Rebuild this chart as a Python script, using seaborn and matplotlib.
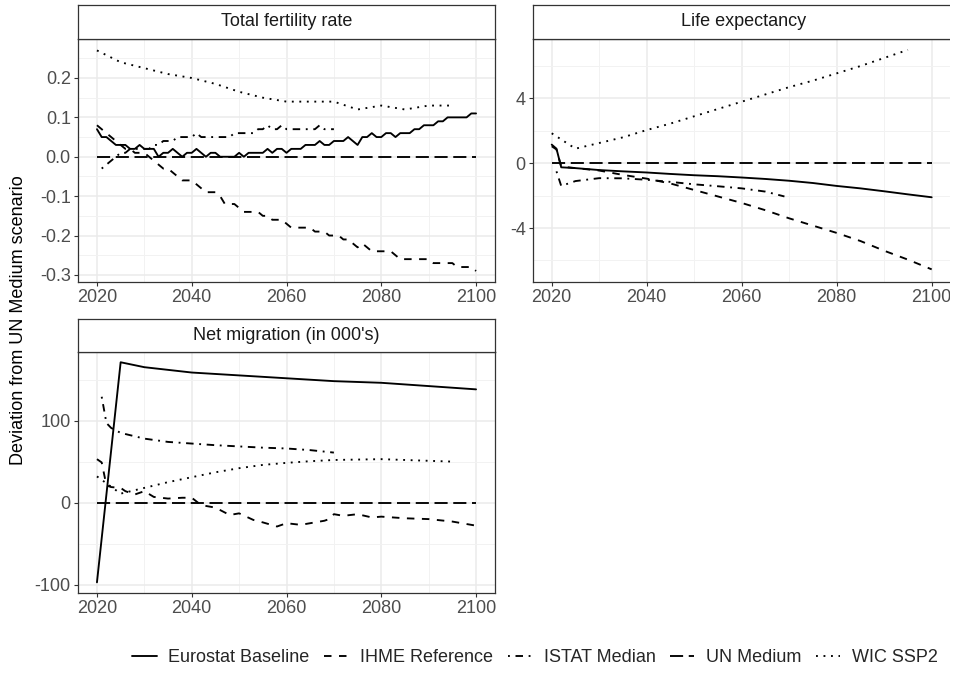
import matplotlib
matplotlib.use("Agg")
import matplotlib.pyplot as plt
import numpy as np
import pandas as pd
import seaborn as sns
from matplotlib.lines import Line2D
from matplotlib.patches import Rectangle

sns.set_theme(style="white")
plt.rcParams['font.family'] = ['Liberation Sans', 'DejaVu Sans']
plt.rcParams['axes.unicode_minus'] = False

# ---------------- data ----------------
scenarios = ["Eurostat Baseline", "IHME Reference", "ISTAT Median", "UN Medium", "WIC SSP2"]
panel_titles = ["Total fertility rate", "Life expectancy", "Net migration (in 000's)"]
x_ticks = [2020, 2040, 2060, 2080, 2100]

# Total fertility rate
tfr_years = list(range(2020, 2101))
tfr_eurostat = [0.07, 0.05, 0.05, 0.04, 0.03, 0.03, 0.03, 0.02, 0.02, 0.03,
                0.02, 0.02, 0.02, 0.00, 0.01, 0.01, 0.02, 0.01, 0.00, 0.01,
                0.01, 0.02, 0.01, 0.00, 0.01, 0.01, 0.00, 0.00, 0.00, 0.00,
                0.01, 0.00, 0.01, 0.01, 0.01, 0.01, 0.02, 0.01, 0.02, 0.02,
                0.01, 0.02, 0.02, 0.02, 0.03, 0.03, 0.03, 0.04, 0.03, 0.03,
                0.04, 0.04, 0.04, 0.05, 0.04, 0.03, 0.05, 0.05, 0.06, 0.05,
                0.05, 0.06, 0.06, 0.05, 0.06, 0.06, 0.06, 0.07, 0.07, 0.08,
                0.08, 0.08, 0.09, 0.09, 0.10, 0.10, 0.10, 0.10, 0.10, 0.11,
                0.11]
tfr_ihme = [0.08, 0.07, 0.06, 0.05, 0.04, 0.03, 0.02, 0.02, 0.01, 0.01,
            0.01, 0.00, -0.01, -0.02, -0.03, -0.03, -0.04, -0.05, -0.06, -0.06,
            -0.06, -0.07, -0.08, -0.09, -0.09, -0.09, -0.10, -0.12, -0.12, -0.12,
            -0.13, -0.14, -0.14, -0.14, -0.14, -0.15, -0.15, -0.16, -0.16, -0.16,
            -0.17, -0.18, -0.18, -0.18, -0.18, -0.18, -0.19, -0.19, -0.19, -0.20,
            -0.20, -0.20, -0.21, -0.21, -0.22, -0.23, -0.22, -0.23, -0.24, -0.24,
            -0.24, -0.24, -0.24, -0.25, -0.26, -0.26, -0.26, -0.26, -0.26, -0.26,
            -0.26, -0.27, -0.27, -0.27, -0.27, -0.27, -0.28, -0.28, -0.28, -0.28,
            -0.29]
tfr_istat_years = list(range(2021, 2071))
tfr_istat = [-0.03, -0.02, -0.01, 0.00, 0.01, 0.01, 0.02, 0.02, 0.02,
             0.02, 0.02, 0.03, 0.03, 0.04, 0.04, 0.04, 0.05, 0.05, 0.05,
             0.05, 0.06, 0.05, 0.05, 0.05, 0.05, 0.05, 0.05, 0.05, 0.06,
             0.06, 0.06, 0.06, 0.06, 0.07, 0.07, 0.08, 0.07, 0.07, 0.08,
             0.07, 0.07, 0.07, 0.07, 0.07, 0.07, 0.07, 0.08, 0.07, 0.07,
             0.07]
tfr_un_years = [2020, 2100]
tfr_un = [0.0, 0.0]
tfr_wic_years = [2020, 2025, 2030, 2035, 2040, 2045, 2050, 2055, 2060, 2065, 2070, 2075, 2080, 2085, 2090, 2095]
tfr_wic = [0.27, 0.24, 0.225, 0.21, 0.20, 0.185, 0.165, 0.15, 0.14, 0.14, 0.14, 0.12, 0.13, 0.12, 0.13, 0.13]

# Life expectancy
le_eurostat_years = [2020, 2021, 2022, 2025, 2030, 2035, 2040, 2045, 2050, 2055, 2060, 2065, 2070, 2075, 2080, 2085, 2090, 2095, 2100]
le_eurostat = [1.15, 0.9, -0.25, -0.3, -0.42, -0.5, -0.57, -0.66, -0.74, -0.8, -0.88, -0.97, -1.08, -1.22, -1.4, -1.55, -1.73, -1.92, -2.1]
le_ihme_years = [2020, 2021, 2022, 2025, 2030, 2035, 2040, 2045, 2050, 2055, 2060, 2065, 2070, 2075, 2080, 2085, 2090, 2095, 2100]
le_ihme = [1.05, 0.85, -0.2, -0.3, -0.45, -0.72, -0.95, -1.25, -1.65, -2.05, -2.45, -2.9, -3.4, -3.85, -4.3, -4.8, -5.4, -5.95, -6.55]
le_istat_years = [2021, 2022, 2025, 2030, 2035, 2040, 2045, 2050, 2055, 2060, 2065, 2069]
le_istat = [-0.5, -1.4, -1.1, -0.92, -0.93, -1.02, -1.15, -1.3, -1.42, -1.55, -1.75, -2.05]
le_un_years = [2020, 2100]
le_un = [0.0, 0.0]
le_wic_years = [2020, 2025, 2030, 2035, 2040, 2045, 2050, 2055, 2060, 2065, 2070, 2075, 2080, 2085, 2090, 2095]
le_wic = [1.85, 0.9, 1.25, 1.6, 2.05, 2.45, 2.9, 3.35, 3.8, 4.25, 4.7, 5.1, 5.55, 6.0, 6.5, 7.0]

# Net migration (in 000's)
nm_eurostat_years = [2020, 2025, 2030, 2040, 2050, 2060, 2070, 2080, 2090, 2100]
nm_eurostat = [-97, 171, 165, 158.5, 155, 151.5, 148, 146, 142, 138]
nm_ihme_years = [2020, 2021, 2022, 2023, 2025, 2026, 2028, 2030, 2032, 2035, 2038, 2040, 2042, 2045, 2048,
                 2050, 2053, 2055, 2058, 2060, 2063, 2065, 2068, 2069, 2070, 2072, 2075, 2078, 2080, 2085,
                 2090, 2095, 2100]
nm_ihme = [53, 49, 21, 19, 18, 14, 10, 14, 7, 5, 6, 6, -3, -6, -15,
           -13, -21, -24, -29, -25, -27, -25, -22, -20, -14, -16, -14, -18, -17, -19,
           -20, -23, -28]
nm_istat_years = [2021, 2022, 2023, 2025, 2030, 2035, 2040, 2045, 2050, 2055, 2060, 2065, 2070]
nm_istat = [129, 97, 91, 85, 78, 74, 72, 70, 68.5, 67, 66, 64, 61]
nm_un_years = [2020, 2100]
nm_un = [0.0, 0.0]
nm_wic_years = [2020, 2025, 2030, 2035, 2040, 2045, 2050, 2055, 2060, 2065, 2070, 2075, 2080, 2085, 2090, 2095]
nm_wic = [32, 11, 18, 25, 31, 37, 42, 46, 48.5, 50.5, 52, 52.5, 53, 52, 51, 50]

# ---------------- tidy frames ----------------
def frame(parts):
    rows = []
    for name, yrs, vals in parts:
        rows.append(pd.DataFrame({"year": yrs, "value": vals, "scenario": name}))
    return pd.concat(rows, ignore_index=True)

df_tfr = frame([(scenarios[0], tfr_years, tfr_eurostat), (scenarios[1], tfr_years, tfr_ihme),
                (scenarios[2], tfr_istat_years, tfr_istat), (scenarios[3], tfr_un_years, tfr_un),
                (scenarios[4], tfr_wic_years, tfr_wic)])
df_le = frame([(scenarios[0], le_eurostat_years, le_eurostat), (scenarios[1], le_ihme_years, le_ihme),
               (scenarios[2], le_istat_years, le_istat), (scenarios[3], le_un_years, le_un),
               (scenarios[4], le_wic_years, le_wic)])
df_nm = frame([(scenarios[0], nm_eurostat_years, nm_eurostat), (scenarios[1], nm_ihme_years, nm_ihme),
               (scenarios[2], nm_istat_years, nm_istat), (scenarios[3], nm_un_years, nm_un),
               (scenarios[4], nm_wic_years, nm_wic)])

dash_map = {"Eurostat Baseline": "", "IHME Reference": (4, 4), "ISTAT Median": (1, 3, 4, 3),
            "UN Medium": (7, 3), "WIC SSP2": (1, 3)}

# ---------------- figure ----------------
W, H = 958, 675
fig = plt.figure(figsize=(W / 100, H / 100), dpi=100)
fig.patch.set_facecolor("white")

LW = 1.35
BORDER = "#333333"

def px_axes(left, top, right, bottom):
    return fig.add_axes([left / W, 1 - bottom / H, (right - left) / W, (bottom - top) / H])

def style_panel(ax, xlim, ylim, yticks, ylabels, yminor):
    ax.set_xlim(*xlim)
    ax.set_ylim(*ylim)
    ax.set_xticks(x_ticks)
    ax.set_xticklabels([str(t) for t in x_ticks])
    ax.set_xticks([2030, 2050, 2070, 2090], minor=True)
    ax.set_yticks(yticks)
    ax.set_yticklabels(ylabels)
    ax.set_yticks(yminor, minor=True)
    ax.grid(which="major", color="#EBEBEB", lw=1.1, zorder=0)
    ax.grid(which="minor", color="#F2F2F2", lw=0.7, zorder=0)
    ax.set_axisbelow(True)
    ax.tick_params(which="major", direction="out", length=3.2, width=0.8, color=BORDER,
                   labelsize=13, labelcolor="#4D4D4D", pad=2, bottom=True, left=True)
    ax.tick_params(which="minor", length=0)
    for s in ax.spines.values():
        s.set_color(BORDER)
        s.set_linewidth(0.9)
    ax.set_xlabel("")
    ax.set_ylabel("")
    ax.set_facecolor("white")

def strip(left, top, right, bottom, text):
    sax = px_axes(left, top, right, bottom)
    sax.set_facecolor("white")
    sax.set_xticks([])
    sax.set_yticks([])
    for s in sax.spines.values():
        s.set_color(BORDER)
        s.set_linewidth(0.9)
    sax.text(0.5, 0.5, text, ha="center", va="center", fontsize=13, color="#1A1A1A",
             transform=sax.transAxes)
    return sax

def draw(ax, df):
    sns.lineplot(data=df, x="year", y="value", style="scenario", style_order=scenarios,
                 dashes=dash_map, color="black", lw=LW, legend=False, ax=ax,
                 estimator=None, sort=True)

# Panel 1
ax1 = px_axes(78, 39, 495, 282)
draw(ax1, df_tfr)
style_panel(ax1, (2016, 2104), (-0.318, 0.299), [-0.3, -0.2, -0.1, 0.0, 0.1, 0.2],
            ["-0.3", "-0.2", "-0.1", "0.0", "0.1", "0.2"], [-0.25, -0.15, -0.05, 0.05, 0.15, 0.25])
strip(78, 5, 495, 39, panel_titles[0])

# Panel 2
ax2 = px_axes(533, 39, 954, 282)
draw(ax2, df_le)
style_panel(ax2, (2016.06, 2104.7), (-7.33, 7.67), [-4, 0, 4], ["-4", "0", "4"], [-6, -2, 2, 6])
strip(533, 5, 954, 39, panel_titles[1])

# Panel 3
ax3 = px_axes(78, 352, 495, 593)
draw(ax3, df_nm)
style_panel(ax3, (2016, 2104), (-110, 183.5), [-100, 0, 100], ["-100", "0", "100"], [-50, 50, 150])
strip(78, 319, 495, 352, panel_titles[2])

# y axis title
fig.text(19 / W, 1 - 320 / H, "Deviation from UN Medium scenario", rotation=90,
         ha="center", va="center", fontsize=13, color="black")

# legend
handles = [Line2D([0], [0], color="black", lw=LW,
                  **({"dashes": dash_map[s]} if dash_map[s] else {}))
           for s in scenarios]
fig.legend(handles, scenarios, loc="center", bbox_to_anchor=(535 / W, 1 - 658 / H), ncol=5,
           frameon=False, fontsize=13, handlelength=1.35, handletextpad=0.65,
           columnspacing=0.8, borderaxespad=0)

# the reference image is cropped at the right edge
fig.add_artist(Rectangle((950 / W, 0), 1, 1, transform=fig.transFigure,
                         facecolor="white", edgecolor="none", zorder=100))

fig.savefig("out.png", dpi=100, facecolor="white")
